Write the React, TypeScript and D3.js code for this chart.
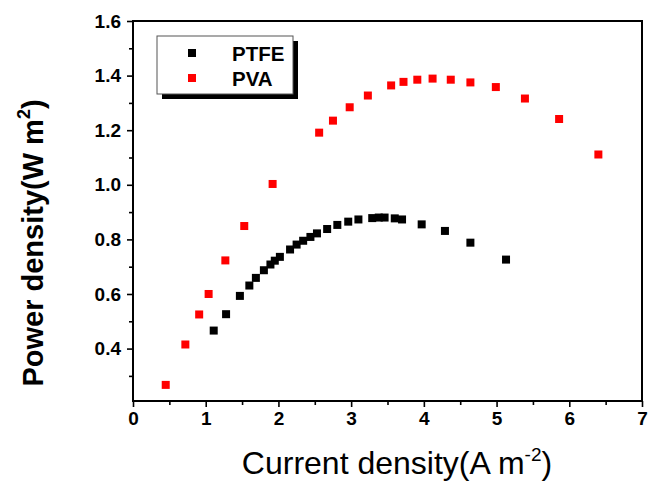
import { useRef, useEffect } from 'react';
import * as d3 from 'd3';

// PTFE series (current density A m^-2, power density W m^-2)
const ptfeX = [1.11, 1.28, 1.47, 1.6, 1.69, 1.8, 1.89, 1.95, 2.02, 2.16, 2.25, 2.34, 2.44, 2.53, 2.67, 2.81, 2.96, 3.1, 3.29, 3.38, 3.46, 3.6, 3.7, 3.97, 4.29, 4.64, 5.13];
const ptfeY = [0.466, 0.526, 0.593, 0.631, 0.659, 0.687, 0.708, 0.722, 0.736, 0.763, 0.781, 0.795, 0.809, 0.822, 0.838, 0.853, 0.865, 0.873, 0.878, 0.88, 0.88, 0.877, 0.873, 0.855, 0.831, 0.788, 0.726];

// PVA series
const pvaX = [0.45, 0.72, 0.91, 1.04, 1.27, 1.53, 1.92, 2.56, 2.75, 2.98, 3.23, 3.55, 3.72, 3.91, 4.12, 4.37, 4.64, 4.99, 5.39, 5.86, 6.4];
const pvaY = [0.267, 0.415, 0.525, 0.6, 0.723, 0.849, 1.003, 1.191, 1.235, 1.284, 1.327, 1.364, 1.377, 1.385, 1.389, 1.385, 1.375, 1.358, 1.316, 1.241, 1.111];

const xTicks = [0, 1, 2, 3, 4, 5, 6, 7];
const xMinor = [0.5, 1.5, 2.5, 3.5, 4.5, 5.5, 6.5];
const yTicks = [0.4, 0.6, 0.8, 1.0, 1.2, 1.4, 1.6];
const yMinor = [0.3, 0.5, 0.7, 0.9, 1.1, 1.3, 1.5];

const series = [
  { name: 'PTFE', color: '#000000', xs: ptfeX, ys: ptfeY },
  { name: 'PVA', color: '#ff0000', xs: pvaX, ys: pvaY },
];

const FONT = 'Liberation Sans, Arial, sans-serif';

export default function App() {
  const svgRef = useRef<SVGSVGElement>(null);

  useEffect(() => {
    const W = 649, H = 489;
    const m = { top: 21, right: 7, bottom: 88, left: 133 };
    const iw = W - m.left - m.right;
    const ih = H - m.top - m.bottom;

    const x = d3.scaleLinear().domain([0, 7]).range([0, iw]);
    const y = d3.scaleLinear().domain([0.208, 1.6]).range([ih, 0]);

    const svg = d3.select(svgRef.current);
    svg.selectAll('*').remove();
    const g = svg.append('g').attr('transform', `translate(${m.left},${m.top})`);

    const styled = (a: any) => {
      a.select('.domain').remove();
      a.selectAll('.tick line').attr('stroke', '#000').attr('stroke-width', 1.6);
      a.selectAll('text').attr('fill', '#000').attr('font-size', 19)
        .attr('font-weight', 'bold').attr('font-family', FONT);
    };

    // minor ticks
    g.append('g').attr('transform', `translate(0,${ih})`)
      .call(d3.axisBottom(x).tickValues(xMinor).tickSize(4).tickFormat(() => '')).call(styled);
    g.append('g')
      .call(d3.axisLeft(y).tickValues(yMinor).tickSize(4).tickFormat(() => '')).call(styled);

    // major ticks
    g.append('g').attr('transform', `translate(0,${ih})`)
      .call(d3.axisBottom(x).tickValues(xTicks).tickSize(6).tickPadding(5).tickFormat(d3.format('d'))).call(styled);
    g.append('g')
      .call(d3.axisLeft(y).tickValues(yTicks).tickSize(6).tickPadding(6).tickFormat(d3.format('.1f'))).call(styled);

    // frame
    g.append('rect').attr('width', iw).attr('height', ih)
      .attr('fill', 'none').attr('stroke', '#000').attr('stroke-width', 2);

    // points
    const s = 8;
    series.forEach(sr => {
      g.append('g').selectAll('rect').data(sr.xs.map((v, i) => [v, sr.ys[i]]))
        .join('rect')
        .attr('x', d => x(d[0]) - s / 2).attr('y', d => y(d[1]) - s / 2)
        .attr('width', s).attr('height', s).attr('fill', sr.color);
    });

    // legend
    const lg = svg.append('g').attr('transform', 'translate(157,36)');
    lg.append('rect').attr('x', 5).attr('y', 5).attr('width', 136).attr('height', 58).attr('fill', '#000');
    lg.append('rect').attr('width', 136).attr('height', 58).attr('fill', '#fff')
      .attr('stroke', '#555').attr('stroke-width', 1);
    series.forEach((sr, i) => {
      const cy = 17 + i * 25;
      lg.append('rect').attr('x', 35 - s / 2).attr('y', cy - s / 2).attr('width', s).attr('height', s).attr('fill', sr.color);
      lg.append('text').attr('x', 75).attr('y', cy + 7.5).attr('font-size', 20.5).attr('font-weight', 'bold')
        .attr('font-family', FONT).attr('fill', '#000').text(sr.name);
    });

    // axis titles
    const xt = svg.append('text').attr('x', 397).attr('y', 474).attr('text-anchor', 'middle')
      .attr('font-size', 32).attr('font-family', FONT).attr('fill', '#000');
    xt.append('tspan').text('Current density(A m');
    xt.append('tspan').attr('dy', -13).attr('font-size', 19).text('-2');
    xt.append('tspan').attr('dy', 13).text(')');

    const yt = svg.append('text').attr('transform', `translate(43,243) rotate(-90)`)
      .attr('text-anchor', 'middle').attr('font-size', 29).attr('font-weight', 'bold')
      .attr('font-family', FONT).attr('fill', '#000');
    yt.append('tspan').text('Power density(W m');
    yt.append('tspan').attr('dy', -13).attr('font-size', 18).text('2');
    yt.append('tspan').attr('dy', 13).text(')');
  }, []);

  return (
    <div style={{ position: 'fixed', left: 0, top: 0, width: 649, height: 489, background: '#fff' }}>
      <svg ref={svgRef} width={649} height={489} />
    </div>
  );
}
